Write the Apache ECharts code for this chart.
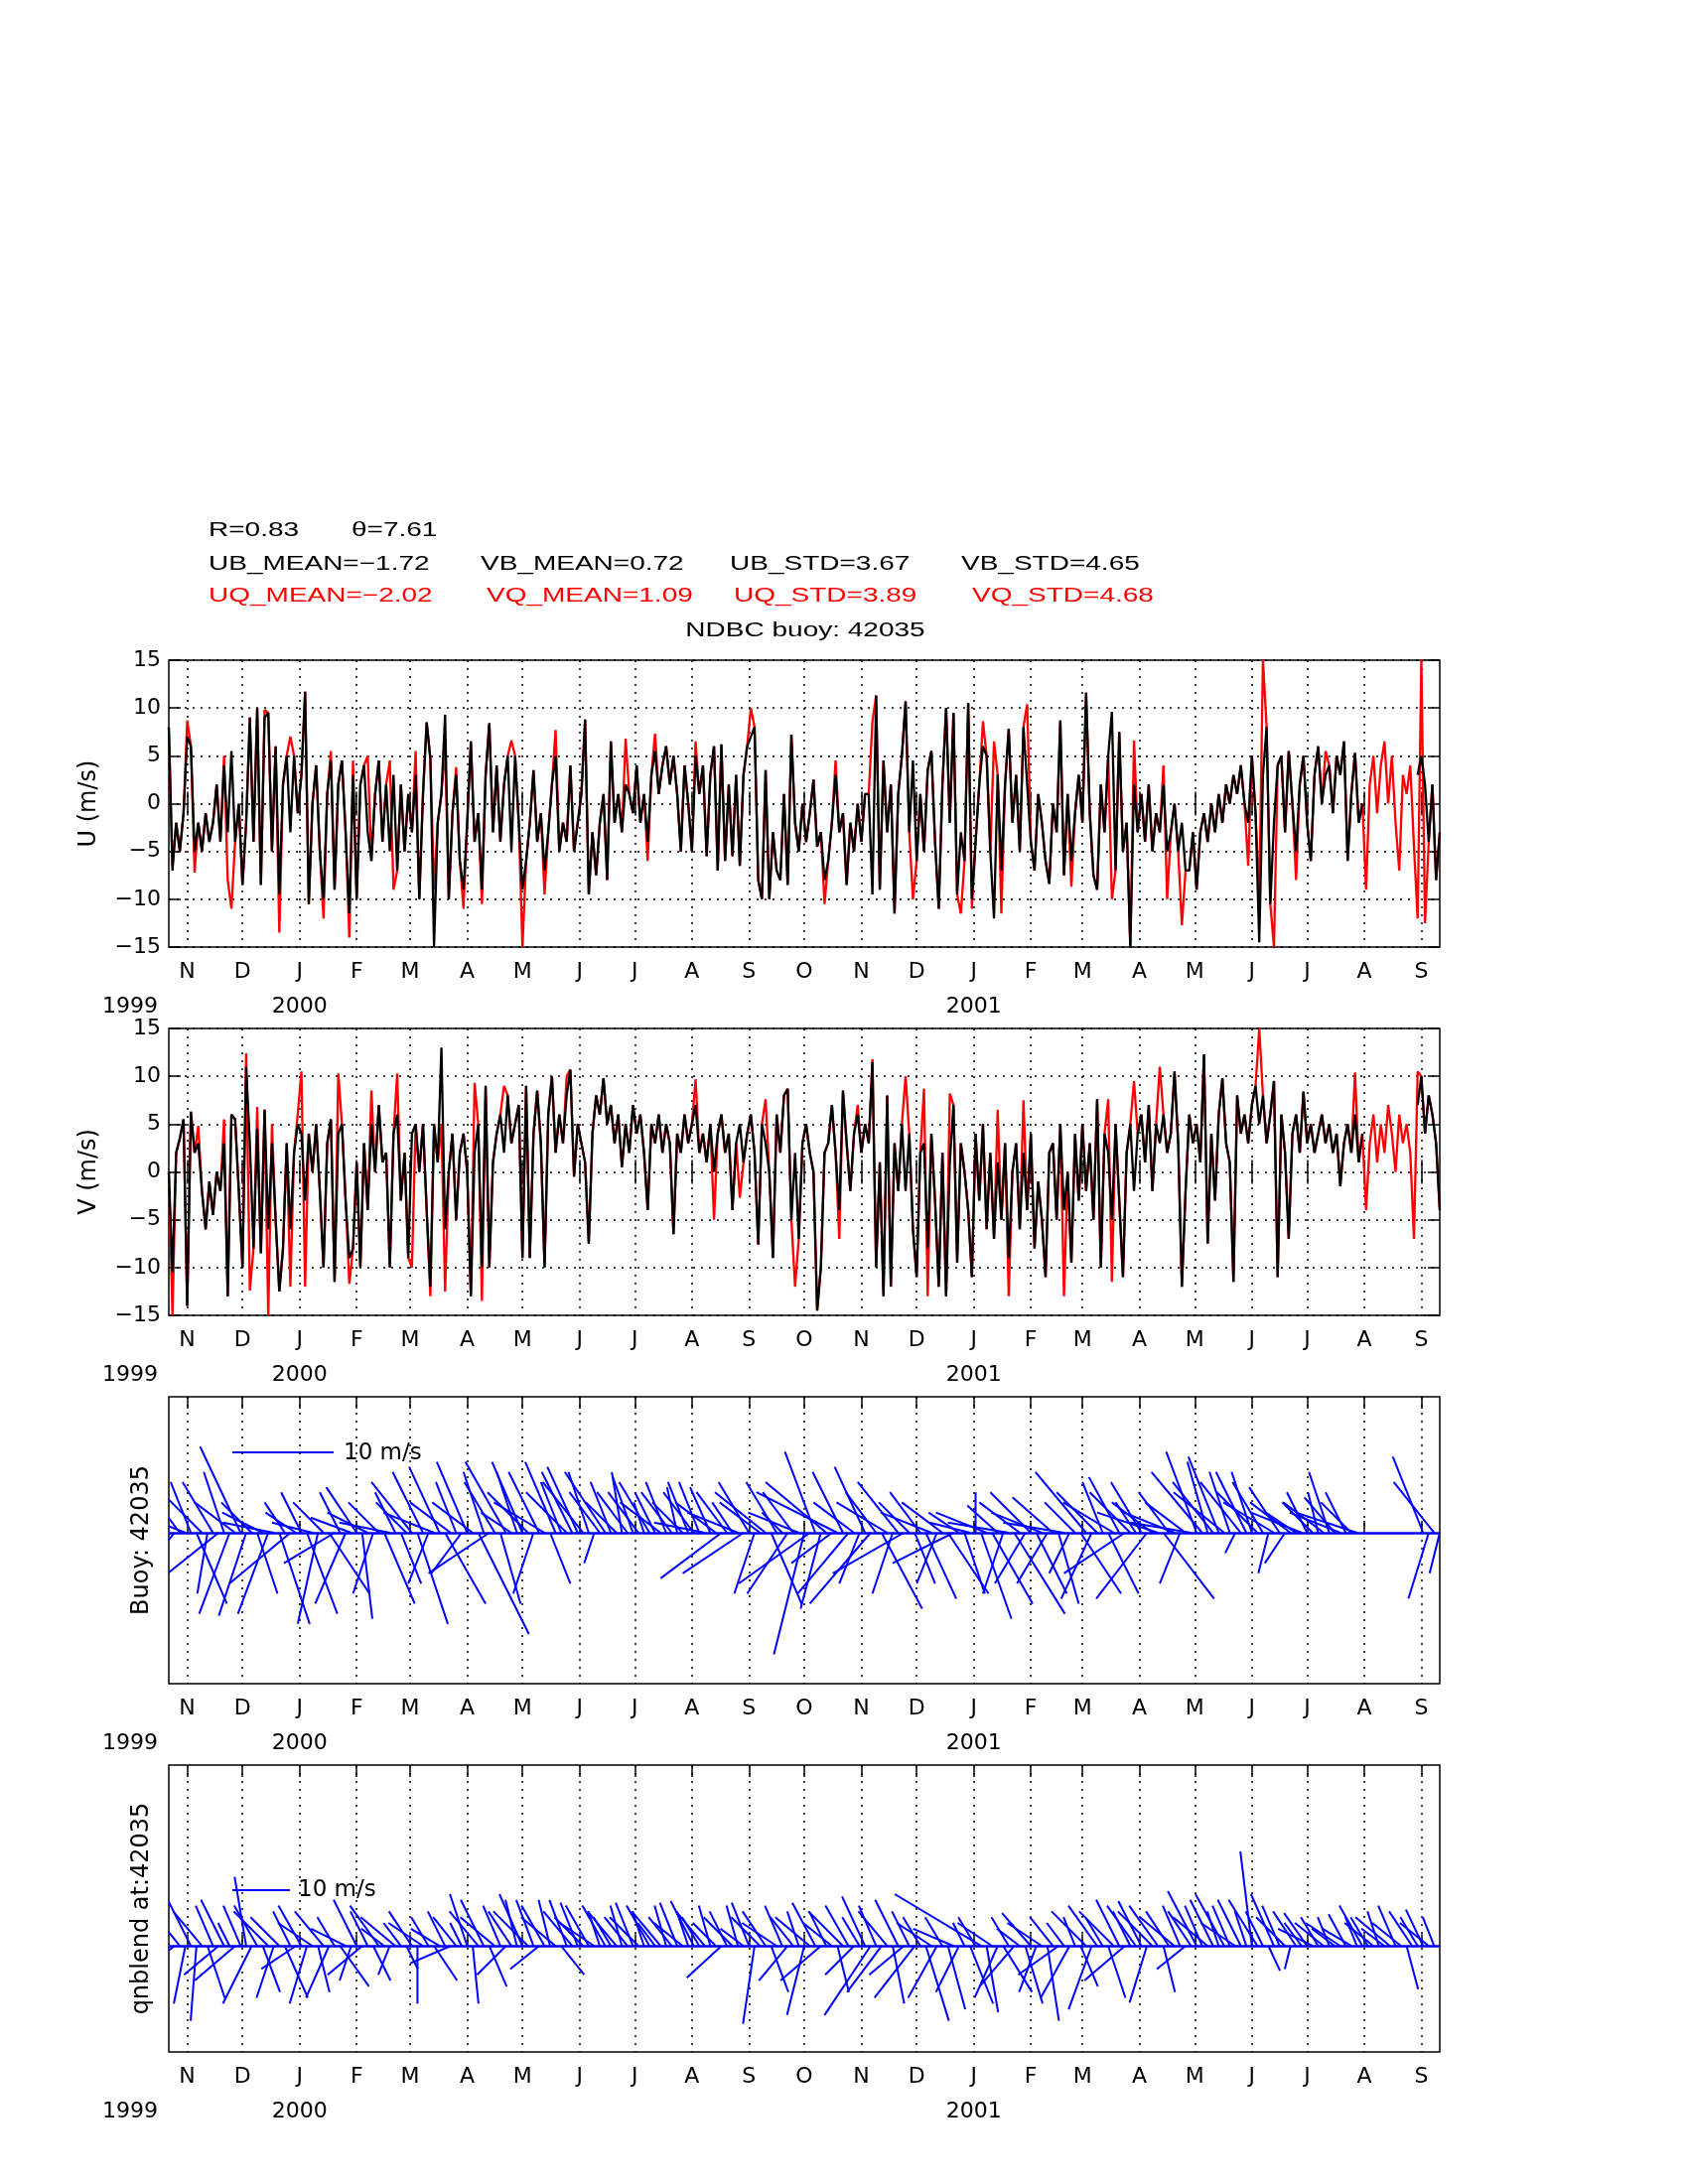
<!DOCTYPE html>
<html>
<head>
<meta charset="utf-8">
<title>NDBC buoy 42035</title>
<script src="https://cdn.jsdelivr.net/npm/echarts@6/dist/echarts.min.js"></script>
<style>
  html, body { margin: 0; padding: 0; background: #fff; }
  #chart { width: 1700px; height: 2200px; }
</style>
</head>
<body>
<div id="chart"></div>
<script>
// line panels: samples every 2 days from 1999-10-22
const START = [1999, 9, 22];
const STEP_DAYS = 2;
// stick panels: one stick every 3 days from the same start
const STICK_STEP_DAYS = 3;

// buoy U (black)
const ub = [
  8, -7, -2, -5, -1, 7, 6, -5, -2, -5,
  -1, -4, -2, 2, -4, 4, -3, 5.5, -4, 0,
  -8.5, -2, 9, -4, 10, -8.5, 9, 9.5, -5, 6,
  -9.5, 2, 5, -3, 5, -1, 3, 11.7, -10.5, 0,
  4, -5, -10, 1, 4.5, -9, 2, 4.5, -3, -11.5,
  3, -10, 2, 4, -3, -6, 1, 4.5, -4, 2,
  -5, 3, -7, 2, -5, 1, -3, 3, -10, 1,
  8.5, 4.7, -15, -2, 1, 9.3, -10, -1, 3, -6,
  -9, -2, 6.5, -4, -1, -9, 3, 8.4, -3, 4,
  -4, 2, 5, -5, 5, -2, -9, -6, -2, 3.5,
  -4, -1, -7, -3, 2, 5, -5, -2, -4, 4,
  -5, -2, 1, 8.8, -9.5, -3, -7.5, -2, 1, -8,
  6.5, -2, 1, -3, 2, 1, -1, 4, -2, 1,
  -4, 3, 5.5, 1, 4, 6, 2, 5, 1, -5,
  4, 0, -5, 5, 1, 4, -5.5, 3, 6, -7,
  6.2, -6, 2, -5.5, 3, -6.5, 3, 6, 7, 8,
  -8, -10, 3.5, -10, -3, -7, -8, 1, -8.5, 7.2,
  -2, -5, 0, -4, -1, 2.5, -4.5, -3, -8, -6,
  -2, 3, -3, -1, -8.5, -2, -5, 0, -4, 1,
  1, -9.5, 11.3, -9, 4.5, -3, 2, -11.5, 1, 5,
  10.7, -3, 4.5, -6, 1, -5, 3.5, 5.5, -4, -11,
  2, 10, -2, 9.5, -9.5, -3, -6, 10.5, -10, -4,
  2, 6, 5, -5, -12, 3, -7, 2, 7.8, -2,
  3, -5, 8, 2, -4, -7, 1, -2, -6, -8.4,
  0, -3, 8.7, -7.5, 1, -6, -1, 3, -2, 11.6,
  -1, -7.5, -9, 2, -3, 5, 9.6, -7, 7.5, -5,
  -2, -15, 2, -3, 1, -4, 2, -5, -1, -3,
  2, -5, -3, 0, -5, -2, -7, -7, -3, -9,
  -3, -1, -4, 0, -3, 1, -2, 2, 0, 3,
  1, 4, 0, -2, 5, -1, -14.5, 3, 8, -10.5,
  -2, 4, 5, -3, 5.5, 0, -5, 2, 5, -2,
  -6, 3, 6, 0, 3, 4, -1, 5, 3, 6.5,
  -6, 1, 5.3, -2, 0, null, null, null, null, null,
  null, null, null, null, null, null, null, null, null, 3,
  5, 2, -4, 2, -8, -3
];

// qnblend U (red)
const uq = [
  8, -6.5, -2, -5, -1, 8.7, 6, -7.2, -2, -5,
  -1, -4, -2, 2, -4, 5, -8, -11, -4, 0,
  -8.5, -2, 9, -4, 10, -8.5, 9.8, 9.5, -5, 6,
  -13.5, 2, 5, 7, 5, -1, 3, 11.7, -10.5, 0,
  4, -5, -12, 1, 5.5, -9, 2, 4.5, -3, -14,
  4.5, -10, 2, 4, 5, -6, 1, 4.5, -4, 2,
  4.5, -9, -7, 2, -5, 1, -3, 5.5, -10, 1,
  8.5, 4.7, -9, -2, 1, 6, -10, -1, 3.8, -6,
  -11, -2, 6.5, -4, -1, -10.5, 3, 8.4, -3, 4,
  -4, 2, 5, 6.6, 5, -2, -15, -6, -2, 3.5,
  -4, -1, -9.5, -3, 2, 7.7, -5, -2, -4, 4,
  -5, -2, 1, 8.8, -9.5, -3, -7.5, -2, 1, -8,
  6.5, -2, 1, -3, 6.8, 1, -1, 4, -2, 1,
  -6, 3, 7.3, 1, 4, 6, 2, 5, 1, -5,
  4, 0, -5, 6.5, 1, 4, -5.5, 3, 6, -7,
  6.2, -6, 2, -5.5, 3, -6.5, 3, 6, 10, 8,
  -8, -10, 3.5, -10, -3, -7, -8, 1, -8.5, 7.2,
  -2, -5, 0, -4, -1, 2.5, -4.5, -3, -10.5, -6,
  -2, 4.5, -3, -1, -8.5, -2, -5, 0, -4, 1,
  1, 8.6, 11.3, -9, 4.5, -3, 2, -11.5, 1, 5,
  10.7, -3, -10, -6, 1, -5, 3.5, 5.5, -4, -11,
  2, 10, -2, 9.5, -9.5, -11.5, -6, 10.5, -11, -4,
  2, 8.6, 5, -5, 6.5, 3, -11.5, 2, 7.8, -2,
  3, -5, 8, 10.4, -4, -7, 1, -2, -6, -8.4,
  0, -3, 8.7, -7.5, 1, -8.7, -1, 3, -2, 11.6,
  -1, -7.5, -9, 2, -3, 5, -10, -7, 7.5, -5,
  -2, -15, 6.6, -3, 1, -4, 2, -5, -1, -3,
  4, -10, -3, 0, -5, -12.7, -7, -7, -3, -9,
  -3, -1, -4, 0, -3, 1, -2, 2, 0, 3,
  1, 4, 0, -6.5, 5, -1, -10, 15, 8, -10.5,
  -15, 4, 5, -3, 5.5, 0, -8, 2, 5, -2,
  -6, 3, 6, 0, 5.5, 4, -1, 5, 3, 6.5,
  -6, 1, 5.3, -2, 0, -9, 2, 5, -1, 4,
  6.5, 0, 5, -2, -7, 3, 1, 4, -4.5, -12,
  15, -12.5, -4, 2, -8, -3
];

// buoy V (black)
const vb = [
  0, -10.5, 2, 3.5, 5.5, -14, 6.3, 2, 3, -2,
  -6, -1, -4.5, 0, -2, 3, -13, 6, 5.5, -2,
  -10, 11, 3, -8, 4.5, -8.5, 6.5, -6, 3, -5,
  -12.5, -8, 3, -6, 2, 5, 4, -3, 4, 0,
  5, -2, -10, 3, 5.5, -11.5, 4, 5, -3, -9,
  -8, 1, -10, 3, -4, 5, 0, 7, 1, 2,
  -10, 4, 6, -3, 2, -9, 4, 5, 0, 5,
  -4, -12, 5, 1, 13, -6, 0, 4, -5, 2,
  4, 0, -13, 2, 5, -10, 9, -10, 1, 4,
  6, 2, 8, 3, 5, 7, -9, 9, -9, 4,
  8.5, 3, -10, 6, 10, 2, 6, 3, 8, 10.7,
  -0.5, 5, 3, 1, -7.5, 4, 8, 6, 9.8, 5,
  7, 3, 6, 0.5, 5, 2, 7, 4, 6, 2,
  -4, 5, 3, 6, 2, 5, 3, -6.5, 4, 2,
  6, 3, 5, 7, 2, 4, 1, 5, 0, 4,
  6, 2, 4, -4, 3, 5, 1, 4, 6, 2,
  -7.6, 5, 3, 0, -9, 6, 2, 8, 8.7, -5,
  2, -7, 3, 5, 2, 0, -14.5, -10, 2, 3,
  7, 2, -4, 8.5, 3, -2, 4, 6, 2, 5,
  3, 11.5, -10, 1, -13, 8, -12, 3, -2, 5,
  -2, 4, -6, -11, 2, 3, -8, 4, -3, -12,
  2, -13, 1, 7, -9.5, 3, 0, -4, -11, 4,
  -3, 5, -6, 2, -7, 1, -5, 3, -9, 0,
  3, -6, 2, -4, 4, -8, -1, -5, -11, 2,
  3, -5, 5, -4, 0, -9.5, 4, -3, 5, -2,
  3, -5, 7.6, -10, 4, 2, -5, 5, -3, -11,
  2, 5, -2, 4, 6, 1, 7, -2, 5, 3,
  6, 2, 4, 10.5, 3, -12, -2, 6, 3, 5,
  1, 12.3, -7.5, 4, -3, 6, 9.8, 3, 1, -11.5,
  8, 4, 6, 3, 7, 9, 5, 8, 3, 6,
  9.5, -11, 6, 2, -7, 4, 6, 2, 8.4, 3,
  5, 2, 4, 6, 3, 5, 2, 4, -1.5, 3,
  5, 2, 6, 1, 4, null, null, null, null, null,
  null, null, null, null, null, null, null, null, null, 7,
  10, 4, 8, 6, 3, -4
];

// qnblend V (red)
const vq = [
  0, -15, 2, 3.5, 5.5, -14, 6.3, 2, 4.8, -2,
  -6, -1, -4.5, 0, -2, 5.5, -13, 6, 5.5, -2,
  -10, 12.4, -12.4, -8, 6.8, -8.5, 6.5, -15, 5, -5,
  -12.5, -8, 3, -12, 2, 6, 10.5, -12, 4, 0,
  5, -2, -10, 3, 5.5, -11.5, 10.3, 5, -3, -11.7,
  -8, 1, -10, 3, -4, 8.5, 0, 7, 1, 2,
  -10, 4, 10.3, -3, 2, -9, -10, 5, 0, 5,
  -4, -13, 5, 1, 5, -12.5, 0, 4, -5, 2,
  4, 0, -13, 9.3, 5, -13.5, 9, -10, 1, 4,
  6, 9, 8, 3, 5, 7, -9, 9, -9, 4,
  8.5, 3, -10, 6, 10, 2, 6, 3, 10, 10.7,
  -0.5, 5, 3, 1, -7.5, 4, 8, 6, 9.8, 5,
  7, 3, 6, 0.5, 5, 2, 7, 4, 6, 2,
  -4, 5, 3, 6, 2, 5, 3, -6.5, 4, 2,
  6, 3, 5, 9.7, 2, 4, 1, 5, -5, 4,
  6, 2, 4, -4, 3, -2.7, 1, 4, 6, 2,
  -7.6, 5, 7.6, 0, -9, 6, 2, 8, 8.7, -5,
  -12, -7, 3, 5, 2, 0, -14.5, -10, 2, 3,
  7, 2, -7, 8.5, 3, -2, 4, 7, 2, 5,
  3, 11.8, -10, 1, -13, 8, -12, 3, -2, 5,
  10, 4, -6, -11, 2, 8.7, -13, 4, -3, -12,
  2, -13, 8.2, 7, -9.5, 3, 0, -4, -11, 4,
  -3, 5, -6, 2, -7, 6.5, -5, 3, -13, 0,
  3, -6, 7.5, -4, 4, -8, -1, -5, -11, 2,
  3, -5, 5, -13, 0, -9.5, 4, -3, 5, -2,
  3, -5, 7.6, -10, 4, 7.6, -11.5, 5, -3, -11,
  2, 5, 9.5, 4, 6, 1, 7, -2, 5, 11,
  6, 2, 4, 10.5, 3, -12, -2, 6, 3, 5,
  1, 12.3, -7.5, 4, -3, 6, 9.8, 3, 1, -11.5,
  8, 4, 6, 3, 7, 9, 15, 8, 3, 6,
  9.5, -11, 6, 2, -7, 4, 6, 2, 8.4, 3,
  5, 2, 4, 6, 3, 5, 2, 4, -1.5, 3,
  5, 2, 10.4, 1, 4, -4, 3, 6, 1, 5,
  2, 7, 4, 0, 6, 3, 5, 2, -7, 10.5,
  10, 4, 8, 6, 3, -4
];

// buoy sticks [u, v] in m/s
const buoySticks = [
  [-2, 6], [-4, -5], [-3, 4], [-5, 2],
  [-2, 5], [3, -7], [-4, 4], [-1, -6], [-3, 5], [-5, -4], [-2, 6], [-3, -8], [-4, 3], [-4, 8.5],
  [-2.7, -8.2], [-3, 3], [2, -6], [-4, 2], [-3, -8], [-5, 1], [3, -9], [-2, 3], [-6, -5], [-3, 2],
  [-2, 4], [3, -8], [-4, 1], [-2, -9], [-3, 3], [4, -6], [-5, -3], [-2, 4], [-3, -7], [-4, 1.5],
  [-3, 4.5], [1, -8.5], [-4, 2], [-2, -6], [-3, 3], [3, -7], [-5, 1], [-2, 4], [2, -5], [-3, 3],
  [-4, 5], [3, -9], [-3, 6], [-2, -5], [-5, 2], [-3, 6.5], [4, -7], [-4, 3], [-2, 5], [-3, -4],
  [-3, 7], [-4, 3], [5, -10], [-2, 6], [-6, -4], [-3, 5], [2, -7], [-4, 7], [-3, 2], [-2, 6],
  [-3, 7], [-4, 4], [-2, -6], [-3, 6], [-5, 3], [2, -5], [-3, 7], [-2, 5], [-4, 4], [-3, 6],
  [-3, 6.5], [-4, 5], [-2, 6], [-1, -3], [-3, 4], [-4, 6], [-2, 5], [-3, 3], [-1, 6], [-3, 4],
  [-2, 5.5], [-3, 4], [-1, 3], [-3, 5], [-2, 4], [-4, 3], [-2, 5], [-3, 4], [-1, 4.5], [-3, 3], [-2, 5],
  [-3, 4], [-2, 5], [-5, 1], [-2, 4.5], [-4, 3], [-6, -4.5], [-3, 4], [-2, 3], [-5, 2], [-6, -4],
  [-3, 5], [-2, -6], [-4, 3], [-5, 4], [3, -7], [-3, 5], [-2, 2], [-4, -6], [-3, 4], [-5, 2],
  [-3, -12], [-7, -5], [-3, 8], [-2, -7.5], [-6, 5], [-4, -3], [-8, 4], [-3, 6], [-5, -6], [-4, 3], [-2, -5],
  [-3, 6.5], [-6, -7], [-3, 4], [4, -7.5], [-5, 3], [-2, -6], [-4, 5], [-7, -4], [-3, 3], [2, -5],
  [-3, 4], [3, -6.5], [-5, 2], [-2, -5], [-4, 3], [4, -6], [-6, -3], [-3, 2], [2, -6], [-4, 1],
  [0, 4], [3, -8.5], [-5, 2], [4, -7], [-3, 2.7], [-2, -6], [-6, 1], [5, -8], [-4, 3], [-3, -5],
  [-4, 4], [3, -6], [-5, 2], [-3, -5], [-4, 3.5], [2, -7], [-6, 1], [-2, -4], [-3, 3], [4, -6],
  [-5, 6], [-3, -6.5], [-4, 4], [-2, 5], [3, -6], [-5, 3], [-3, 5.5], [-6, -4], [-4, 4], [-2, 3],
  [-3, 5], [-5, -6.5], [-4, 3], [-6, 2], [5, -6.5], [-3, 4], [-5, 2], [-2, -5], [-4, 3], [-6, 1],
  [-3, 8], [-5, 6], [-2, 7], [-4, 5], [-3, 7.5], [-5, 4], [-2, 6], [-1, -2], [-4, 5], [-3, 6],
  [-2, 6], [-4, 4], [-3, 5], [-1, -4], [-5, 3], [-3, 4.5], [-2, -3], [-4, 3], [-3, 2], [-5, 2],
  [-2, 4], [-3, 3], [-1, 4], [-4, 3], [-2, 6], [-3, 3.5], [-5, 2], [-2, 4], [-3, 3], [-6, 2],
  null, null, null, null, null, null, null, null, null, null, null,
  [-3, 7.5], [-2, -6.5], [-4, 5], [-1, -4]
];

// qnblend sticks [u, v] in m/s
const qnSticks = [
  [-3, 7], [-5, -4], [-4, 5], [-2, -10],
  [-4, 8], [-1, -13], [-5, 6], [3, -9], [-3, 7], [-6, -5], [-4, 8], [-2, 4], [-7, -6], [-3, 7],
  [-2, 12], [-5, -10], [-4, 7], [3, -8], [-6, 6], [-3, -9], [-5, 5], [4, -9], [-3, 6], [-6, -4],
  [-4, 7], [-3, -10], [-6, 4], [2, -8], [-5, 6], [-4, -9], [-3, 5], [5, -7], [-6, 3], [-2, -6],
  [-4, 8], [-6, -5], [-3, 6], [3, -6], [-5, 7], [-4, 3], [-2, -5], [-6, 5], [-3, 4], [2, -4],
  [-4, 6], [0, -10], [-6, 4], [-3, 5], [4, -6], [-5, 3], [-3, 6], [-7, -3], [-4, 5], [-2, 4],
  [-3, 9], [1, -10], [-5, 6], [-4, 8], [3, -7], [-6, 5], [-3, 7], [-5, -5], [-4, 6], [-2, 8],
  [-4, 9], [-6, 6], [-3, 8], [-5, -4], [-4, 7], [-2, 8], [-6, 5], [4, -5], [-3, 8], [-5, 6],
  [-3, 7.5], [-5, 5], [-4, 7], [-6, 4], [-2, 6], [-4, 7], [-3, 5], [-5, 6], [-2, 7], [-4, 5],
  [-3, 7.5], [-5, 5], [-2, 6], [-4, 7], [-3, 4], [-5, 6], [-2, 7], [-4, 5], [-3, 7.5], [-5, 4], [-2, 6],
  [-4, 7.8], [-3, 5], [-5, 6], [-2, 7], [-4, 4], [-6, -5.5], [-3, 6], [-5, 5], [-2, 7], [-4, 3],
  [-3, 7.5], [-2, -13.5], [-5, 5], [-4, 6], [3, -8], [-6, 4], [-3, 7], [-5, -6], [-4, 5], [-2, 6],
  [-3, -12], [-6, 5], [-4, 7.5], [-7, -6], [-3, 6], [-5, 4], [2, -8], [-6, 6], [-4, 7], [-5, -5], [-3, 5],
  [-4, 8.6], [-8, -12], [-3, 7], [-6, -8], [-5, 6], [2, -10], [-4, 8], [-6, -5], [-3, 6], [-7, -9],
  [-3, 5], [4, -13], [-6, 4], [-5, -9], [-3, 5], [3, -11], [-7, 3], [-4, -8], [-2, 4], [4, -10],
  [-3, 5], [-15, 9], [2, -11.5], [-6, 4], [-4, -9], [5, -8], [-3, 5], [-6, -7], [-4, 3], [3, -10],
  [-5, 5.7], [-3, -8], [-6, 4], [2, -13], [-4, 5], [-7, -5], [-3, 4], [-5, -9], [-2, 5], [3, -7],
  [-6, 6], [-4, -11], [-5, 7], [-3, 5], [3, -9], [-6, 6], [-4, 8], [-7, -6], [-3, 6], [-5, 7],
  [-4, 7.8], [-3, -9.8], [-6, 6], [-5, 7], [2, -8], [-4, 6], [-6, 5], [-3, 7], [-5, -4], [-4, 6],
  [-5, 9.5], [-3, 7], [-6, 5], [-4, 8], [-2, 6], [-5, 9], [-3, 7], [-6, 4], [-4, 8], [-2, 6],
  [-2, 16.4], [-5, 8], [-3, 6], [2, -4.3], [-4, 9], [-3, 7], [-5, 5], [-1, -4], [-4, 6], [-3, 4],
  [-4, 5.7], [-6, 3], [-3, 5], [-5, 4], [-2, 5], [-4, 3], [-6, 4], [-3, 5.5], [-5, 3], [-2, 5],
  [-4, 7], [-3, 5], [-5, 4], [-2, 6], [-4, 3], [-6, 5], [-3, 7], [-5, 4], [2, -7.5], [-4, 6], [-3, 5],
  [-3, 6.3], [-5, 4], [-2, 5], [4, -3]
];

const monthTicks = [
  '1999-11', '1999-12', '2000-01', '2000-02', '2000-03', '2000-04', '2000-05', '2000-06',
  '2000-07', '2000-08', '2000-09', '2000-10', '2000-11', '2000-12', '2001-01', '2001-02',
  '2001-03', '2001-04', '2001-05', '2001-06', '2001-07', '2001-08', '2001-09'
];
const monthLetters = ['J', 'F', 'M', 'A', 'M', 'J', 'J', 'A', 'S', 'O', 'N', 'D'];

const statsTop = ['R=0.83', '\u03b8=7.61'];
const statsBuoy = ['UB_MEAN=\u22121.72', 'VB_MEAN=0.72', 'UB_STD=3.67', 'VB_STD=4.65'];
const statsQn = ['UQ_MEAN=\u22122.02', 'VQ_MEAN=1.09', 'UQ_STD=3.89', 'VQ_STD=4.68'];
const yNames = ['U (m/s)', 'V (m/s)', 'Buoy: 42035', 'qnblend at:42035'];

const X_MIN = new Date(1999, 9, 22).getTime();
const X_MAX = new Date(2001, 8, 11).getTime();
const dayTime = d => new Date(START[0], START[1], START[2] + d).getTime();
const times = ub.map((_, i) => dayTime(STEP_DAYS * i));
const tickTimes = monthTicks.map(s => {
  const p = s.split('-');
  return new Date(+p[0], +p[1] - 1, 1).getTime();
});

const FONT_AX = '"DejaVu Sans", sans-serif';
const FONT_HEAD = '"Liberation Sans", Arial, sans-serif';
const PANEL_TOPS = [665, 1036, 1407, 1778];
const PANEL_H = 289;
const tickStyle = { color: '#000', width: 1.5 };
const dotted = { type: [2, 6], color: '#000', width: 1.5 };

function monthLabel(v) {
  const d = new Date(v);
  const m = monthLetters[d.getMonth()];
  return d.getMonth() === 0 ? m + '\n{yr|' + d.getFullYear() + '}' : m;
}

const grid = PANEL_TOPS.map(top => ({
  left: 170, top: top, width: 1280, height: PANEL_H,
  show: true, borderColor: '#000', borderWidth: 1.5, backgroundColor: '#fff',
  containLabel: false, outerBoundsMode: 'none'
}));

// time kept as ms numbers on a value axis so month ticks can be placed exactly
const xAxis = [];
PANEL_TOPS.forEach((_, g) => {
  xAxis.push({
    type: 'value', gridIndex: g, min: X_MIN, max: X_MAX, position: 'bottom',
    axisLine: { show: false },
    axisTick: { show: true, inside: true, length: 12, lineStyle: tickStyle, customValues: tickTimes },
    axisLabel: {
      show: true, customValues: tickTimes, formatter: monthLabel, margin: 8,
      color: '#000', fontFamily: FONT_AX, fontSize: 22, lineHeight: 35,
      showMinLabel: true, showMaxLabel: true,
      rich: { yr: { color: '#000', fontFamily: FONT_AX, fontSize: 22, lineHeight: 35 } }
    },
    splitLine: { show: true, lineStyle: dotted },
    minorTick: { show: false }, minorSplitLine: { show: false }
  });
  xAxis.push({
    type: 'value', gridIndex: g, min: X_MIN, max: X_MAX, position: 'top',
    axisLine: { show: false },
    axisTick: { show: true, inside: true, length: 12, lineStyle: tickStyle, customValues: tickTimes },
    axisLabel: { show: false }, splitLine: { show: false }
  });
});

const yAxis = [];
[0, 1].forEach(g => {
  yAxis.push({
    type: 'value', gridIndex: g, min: -15, max: 15, interval: 5, position: 'left',
    axisLine: { show: false },
    axisTick: { show: true, inside: true, length: 12, lineStyle: tickStyle },
    axisLabel: {
      formatter: v => v < 0 ? '\u2212' + Math.abs(v) : String(v),
      color: '#000', fontFamily: FONT_AX, fontSize: 22, margin: 8
    },
    splitLine: { show: true, lineStyle: dotted }
  });
  yAxis.push({
    type: 'value', gridIndex: g, min: -15, max: 15, interval: 5, position: 'right',
    axisLine: { show: false },
    axisTick: { show: true, inside: true, length: 12, lineStyle: tickStyle },
    axisLabel: { show: false }, splitLine: { show: false }
  });
});
// stick panels: y in m/s, same px-per-m/s as the 10 m/s key, zero line as in the original
const K_BUOY = 10.2;
const K_QN = 5.8;
yAxis.push({ type: 'value', gridIndex: 2, min: -14.9, max: 13.43, show: false });
yAxis.push({ type: 'value', gridIndex: 3, min: -18.4, max: 31.4, show: false });

function lineSeries(name, vals, color, xi, yi) {
  return {
    name: name, type: 'line', xAxisIndex: xi, yAxisIndex: yi,
    data: times.map((t, i) => [t, vals[i]]),
    showSymbol: false, symbol: 'none', connectNulls: false, silent: true,
    lineStyle: { color: color, width: 2.3 }, itemStyle: { color: color }
  };
}

function stickSeries(name, sticks, xi, yi, kx) {
  return {
    name: name, type: 'custom', xAxisIndex: xi, yAxisIndex: yi, clip: true, silent: true,
    data: sticks.map((s, j) => s ? [dayTime(STICK_STEP_DAYS * j), s[0], s[1]] : [dayTime(STICK_STEP_DAYS * j), null, null]),
    encode: { x: 0, y: 2 },
    renderItem: function (params, api) {
      const u = api.value(1), v = api.value(2);
      if (isNaN(u) || isNaN(v)) return;
      const p0 = api.coord([api.value(0), 0]);
      const p1 = api.coord([api.value(0), v]);
      return {
        type: 'line',
        shape: { x1: p0[0], y1: p0[1], x2: p0[0] + u * kx, y2: p1[1] },
        style: { stroke: '#0000ff', lineWidth: 2 }
      };
    },
    markLine: {
      silent: true, symbol: 'none', animation: false, label: { show: false },
      lineStyle: { color: '#0000ff', width: 2.5, type: 'solid' },
      data: [{ yAxis: 0 }]
    }
  };
}

const series = [
  lineSeries('UQ', uq, '#ff0000', 0, 0),
  lineSeries('UB', ub, '#000000', 0, 0),
  lineSeries('VQ', vq, '#ff0000', 2, 2),
  lineSeries('VB', vb, '#000000', 2, 2),
  stickSeries('Buoy', buoySticks, 4, 4, K_BUOY),
  stickSeries('qnblend', qnSticks, 6, 5, K_QN)
];

function headText(text, x, y, color, align) {
  return {
    type: 'text', x: x, y: y, scaleX: 1.4, silent: true,
    style: {
      text: text, fill: color, font: '20px ' + FONT_HEAD,
      textAlign: align, align: align, textVerticalAlign: 'middle', verticalAlign: 'middle'
    }
  };
}
function plainText(text, x, y, size, rot) {
  return {
    type: 'text', x: x, y: y, rotation: rot || 0, silent: true,
    style: {
      text: text, fill: '#000', font: size + 'px ' + FONT_AX,
      textAlign: rot ? 'center' : 'left', align: rot ? 'center' : 'left',
      textVerticalAlign: 'middle', verticalAlign: 'middle'
    }
  };
}

const graphic = [];
[210, 354].forEach((x, i) => graphic.push(headText(statsTop[i], x, 534, '#000', 'left')));
[210, 484, 735, 968].forEach((x, i) => graphic.push(headText(statsBuoy[i], x, 568, '#000', 'left')));
[210, 490, 739, 979].forEach((x, i) => graphic.push(headText(statsQn[i], x, 600, '#ff0000', 'left')));
graphic.push(headText('NDBC buoy: 42035', 811, 635, '#000', 'center'));

PANEL_TOPS.forEach((top, g) => {
  graphic.push(plainText(yNames[g], g < 2 ? 90 : 143, top + PANEL_H / 2, 24, Math.PI / 2));
  const yr = plainText('1999', 131, top + PANEL_H + 60, 22);
  yr.style.textAlign = 'center'; yr.style.align = 'center';
  graphic.push(yr);
});

// 10 m/s reference sticks
graphic.push({ type: 'line', silent: true, shape: { x1: 234, y1: 1463, x2: 234 + 10 * K_BUOY, y2: 1463 },
  style: { stroke: '#0000ff', lineWidth: 2 } });
graphic.push(plainText('10 m/s', 346, 1464, 23));
graphic.push({ type: 'line', silent: true, shape: { x1: 234, y1: 1904, x2: 234 + 10 * K_QN, y2: 1904 },
  style: { stroke: '#0000ff', lineWidth: 2 } });
graphic.push(plainText('10 m/s', 300, 1904, 23));

const chart = echarts.init(document.getElementById('chart'));
chart.setOption({
  animation: false,
  backgroundColor: '#fff',
  textStyle: { fontFamily: FONT_AX },
  grid: grid,
  xAxis: xAxis,
  yAxis: yAxis,
  series: series,
  graphic: graphic
});
</script>
</body>
</html>
